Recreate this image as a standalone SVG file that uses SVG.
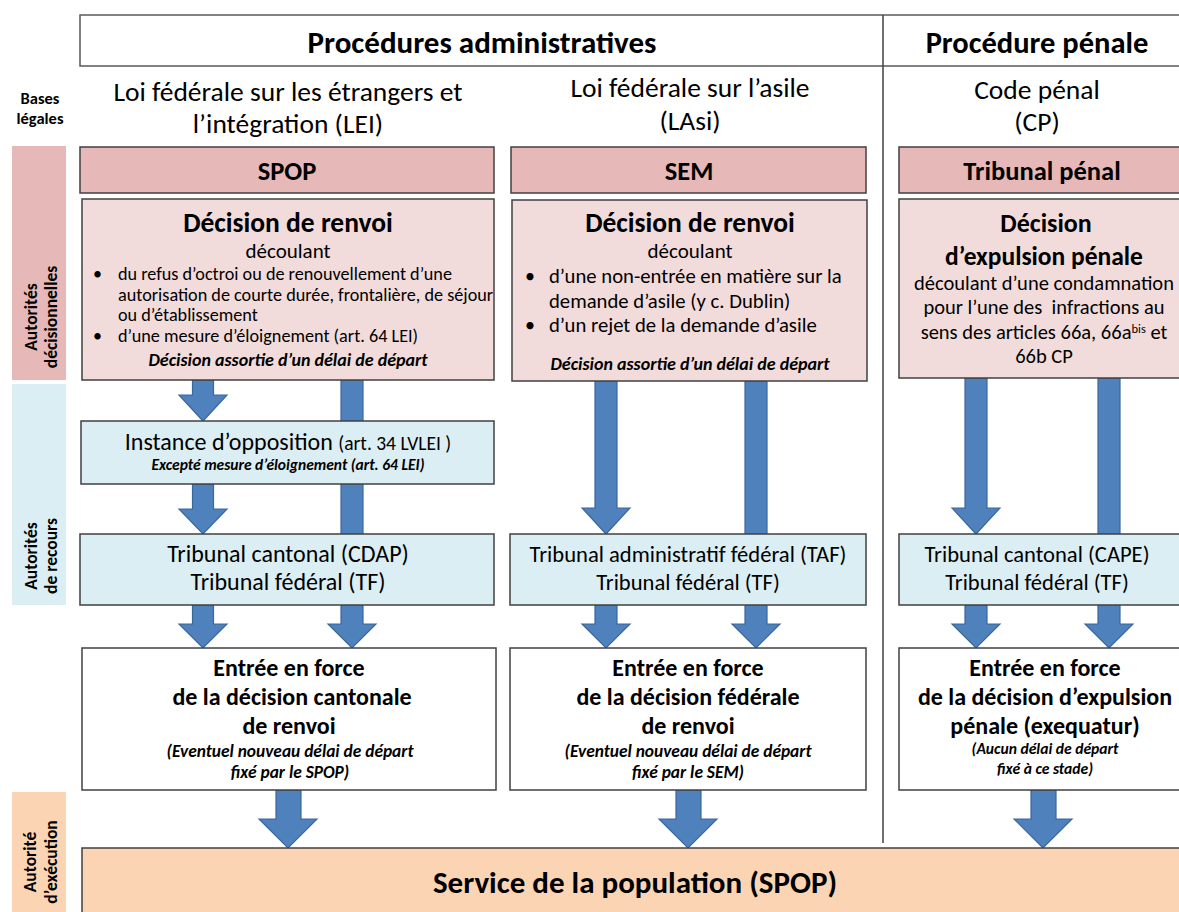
<svg xmlns="http://www.w3.org/2000/svg" width="1179" height="912" viewBox="0 0 1179 912">
<style>
text{font-family:Carlito,Calibri,Lato,"Liberation Sans",sans-serif;fill:#000;}
.c{text-anchor:middle}
.b{font-weight:bold}
.bi{font-weight:bold;font-style:italic}
.side{font-weight:bold;font-size:17.5px;text-anchor:middle}
.box{stroke:#404040;stroke-width:1.5}
.hdr{fill:#E6B8B7}
.dec{fill:#F2DCDB}
.rec{fill:#DBEEF3}
.wht{fill:#fff}
.exe{fill:#FBD4B4}
.arr{fill:#4F81BD;stroke:#3A679C;stroke-width:1.2}
</style>
<rect x="0" y="0" width="1179" height="912" fill="#fff"/>

<g id="side-labels">
  <text class="c b" x="40" y="104" font-size="16.5">Bases</text>
  <text class="c b" x="40" y="124" font-size="16.5">légales</text>
  <rect x="12" y="146" width="54" height="234" fill="#E6B8B7"/>
  <text class="side" transform="translate(37,317) rotate(-90)">Autorités</text>
  <text class="side" transform="translate(57,317) rotate(-90)">décisionnelles</text>
  <rect x="12" y="384" width="54" height="221" fill="#DBEEF3"/>
  <text class="side" transform="translate(37,556) rotate(-90)">Autorités</text>
  <text class="side" transform="translate(57,556) rotate(-90)">de recours</text>
  <rect x="12" y="792" width="54" height="120" fill="#FBD4B4"/>
  <text class="side" transform="translate(36,862) rotate(-90)">Autorité</text>
  <text class="side" transform="translate(57,862) rotate(-90)">d’exécution</text>
</g>

<g id="header">
  <rect x="80" y="15" width="1110" height="51" fill="#fff" stroke="#595959" stroke-width="1.5"/>
  <line x1="883" y1="15" x2="883" y2="843" stroke="#404040" stroke-width="1.5"/>
  <text class="c b" x="482" y="53" font-size="31">Procédures administratives</text>
  <text class="c b" x="1037" y="53" font-size="30.5">Procédure pénale</text>
</g>

<g id="bases">
  <text class="c" x="288" y="101" font-size="27.5">Loi fédérale sur les étrangers et</text>
  <text class="c" x="288" y="133" font-size="27.5">l’intégration (LEI)</text>
  <text class="c" x="690" y="97" font-size="27.5">Loi fédérale sur l’asile</text>
  <text class="c" x="690" y="130" font-size="27.5">(LAsi)</text>
  <text class="c" x="1037" y="99" font-size="27.5">Code pénal</text>
  <text class="c" x="1037" y="131" font-size="27.5">(CP)</text>
</g>

<g id="connectors">
  <!-- column 1 -->
  <path class="arr" d="M192.5,380 H213.5 V395 H227 L203,421 L179,395 H192.5 Z"/>
  <path class="arr" d="M192.5,484 H213.5 V509 H227 L203,534 L179,509 H192.5 Z"/>
  <path class="arr" d="M192.5,605 H213.5 V624 H227 L203,648 L179,624 H192.5 Z"/>
  <path class="arr" d="M341,380 H363 V624 H376 L352,648 L328,624 H341 Z"/>
  <path class="arr" d="M276,790 H301 V819 H317 L288,848 L259,819 H276 Z"/>
  <!-- column 2 -->
  <path class="arr" d="M595,381 H617 V508 H630 L606,534 L582,508 H595 Z"/>
  <path class="arr" d="M595,605 H617 V624 H630 L606,648 L582,624 H595 Z"/>
  <path class="arr" d="M745,381 H767 V624 H780 L756,648 L732,624 H745 Z"/>
  <path class="arr" d="M676,790 H701 V819 H717 L688,848 L659,819 H676 Z"/>
  <!-- column 3 -->
  <path class="arr" d="M965,378 H987 V508 H1000 L976,534 L952,508 H965 Z"/>
  <path class="arr" d="M965,605 H987 V624 H1000 L976,648 L952,624 H965 Z"/>
  <path class="arr" d="M1098,378 H1120 V624 H1133 L1109,648 L1085,624 H1098 Z"/>
  <path class="arr" d="M1031,790 H1056 V819 H1072 L1043,848 L1014,819 H1031 Z"/>
</g>

<g id="spop">
  <rect class="box hdr" x="80" y="147" width="414" height="46"/>
  <text class="c b" x="287" y="180" font-size="26.5">SPOP</text>
</g>
<g id="sem">
  <rect class="box hdr" x="511" y="147" width="355" height="46"/>
  <text class="c b" x="689" y="180" font-size="26.5">SEM</text>
</g>
<g id="tribunal-penal">
  <rect class="box hdr" x="899" y="147" width="290" height="46"/>
  <text class="c b" x="1042" y="180" font-size="26.5">Tribunal pénal</text>
</g>

<g id="decision-spop">
  <rect class="box dec" x="82" y="199" width="412" height="181"/>
  <text class="c b" x="288" y="232" font-size="27.5">Décision de renvoi</text>
  <text class="c" x="288" y="258" font-size="21">découlant</text>
  <text x="93" y="280" font-size="18">•</text>
  <text x="118" y="280" font-size="18.2">du refus d’octroi ou de renouvellement d’une</text>
  <text x="118" y="301" font-size="18.2">autorisation de courte durée, frontalière, de séjour</text>
  <text x="118" y="321" font-size="18.2">ou d’établissement</text>
  <text x="93" y="342" font-size="18">•</text>
  <text x="118" y="342" font-size="18.2">d’une mesure d’éloignement (art. 64 LEI)</text>
  <text class="c bi" x="288" y="366" font-size="18">Décision assortie d’un délai de départ</text>
</g>

<g id="decision-sem">
  <rect class="box dec" x="512" y="200" width="355" height="181"/>
  <text class="c b" x="690" y="232" font-size="27.5">Décision de renvoi</text>
  <text class="c" x="690" y="258" font-size="21">découlant</text>
  <text x="525" y="283" font-size="20">•</text>
  <text x="549" y="283" font-size="20.7">d’une non-entrée en matière sur la</text>
  <text x="549" y="308" font-size="20.7">demande d’asile (y c. Dublin)</text>
  <text x="525" y="332" font-size="20">•</text>
  <text x="549" y="332" font-size="20.7">d’un rejet de la demande d’asile</text>
  <text class="c bi" x="690" y="370" font-size="18">Décision assortie d’un délai de départ</text>
</g>

<g id="decision-penale">
  <rect class="box dec" x="899" y="199" width="290" height="179"/>
  <text class="c b" x="1046" y="232" font-size="26">Décision</text>
  <text class="c b" x="1044" y="265" font-size="25.5">d’expulsion pénale</text>
  <text class="c" x="1044" y="290" font-size="20.5">découlant d’une condamnation</text>
  <text class="c" x="1044" y="314" font-size="20.5" xml:space="preserve">pour l’une des  infractions au</text>
  <text class="c" x="1044" y="339" font-size="20.5">sens des articles 66a, 66a<tspan font-size="12.5" dy="-6.5">bis</tspan><tspan dy="6.5"> et</tspan></text>
  <text class="c" x="1044" y="363" font-size="20.5">66b CP</text>
</g>

<g id="opposition">
  <rect class="box rec" x="81" y="421" width="413" height="63"/>
  <text class="c" x="288" y="450"><tspan font-size="24">Instance d’opposition </tspan><tspan font-size="19.5">(art. 34 LVLEI )</tspan></text>
  <text class="c bi" x="288" y="470" font-size="15.5">Excepté mesure d’éloignement (art. 64 LEI)</text>
</g>

<g id="recours-cdap">
  <rect class="box rec" x="80" y="534" width="414" height="71"/>
  <text class="c" x="288" y="562" font-size="24">Tribunal cantonal (CDAP)</text>
  <text class="c" x="288" y="590" font-size="24">Tribunal fédéral (TF)</text>
</g>
<g id="recours-taf">
  <rect class="box rec" x="510" y="534" width="356" height="71"/>
  <text class="c" x="688" y="562" font-size="22.6">Tribunal administratif fédéral (TAF)</text>
  <text class="c" x="688" y="590" font-size="22.6">Tribunal fédéral (TF)</text>
</g>
<g id="recours-cape">
  <rect class="box rec" x="899" y="534" width="290" height="71"/>
  <text class="c" x="1037" y="562" font-size="22.6">Tribunal cantonal (CAPE)</text>
  <text class="c" x="1037" y="590" font-size="22.6">Tribunal fédéral (TF)</text>
</g>

<g id="entree-cantonale">
  <rect class="box wht" x="82" y="648" width="414" height="142"/>
  <text class="c b" x="289" y="676" font-size="24">Entrée en force</text>
  <text class="c b" x="292" y="705" font-size="24">de la décision cantonale</text>
  <text class="c b" x="289" y="734" font-size="24">de renvoi</text>
  <text class="c bi" x="290" y="757" font-size="17.4">(Eventuel nouveau délai de départ</text>
  <text class="c bi" x="290" y="778" font-size="17.4">fixé par le SPOP)</text>
</g>
<g id="entree-federale">
  <rect class="box wht" x="510" y="648" width="356" height="142"/>
  <text class="c b" x="688" y="676" font-size="24">Entrée en force</text>
  <text class="c b" x="688" y="705" font-size="24">de la décision fédérale</text>
  <text class="c b" x="688" y="734" font-size="24">de renvoi</text>
  <text class="c bi" x="688" y="757" font-size="17.4">(Eventuel nouveau délai de départ</text>
  <text class="c bi" x="688" y="778" font-size="17.4">fixé par le SEM)</text>
</g>
<g id="entree-penale">
  <rect class="box wht" x="899" y="648" width="290" height="142"/>
  <text class="c b" x="1045" y="676" font-size="24">Entrée en force</text>
  <text class="c b" x="1045" y="705" font-size="24">de la décision d’expulsion</text>
  <text class="c b" x="1045" y="734" font-size="24">pénale (exequatur)</text>
  <text class="c bi" x="1045" y="754" font-size="15.6">(Aucun délai de départ</text>
  <text class="c bi" x="1045" y="774" font-size="15.6">fixé à ce stade)</text>
</g>

<g id="service-population">
  <rect class="box exe" x="82" y="848" width="1110" height="70"/>
  <text class="c b" x="635" y="893" font-size="31">Service de la population (SPOP)</text>
</g>
</svg>
